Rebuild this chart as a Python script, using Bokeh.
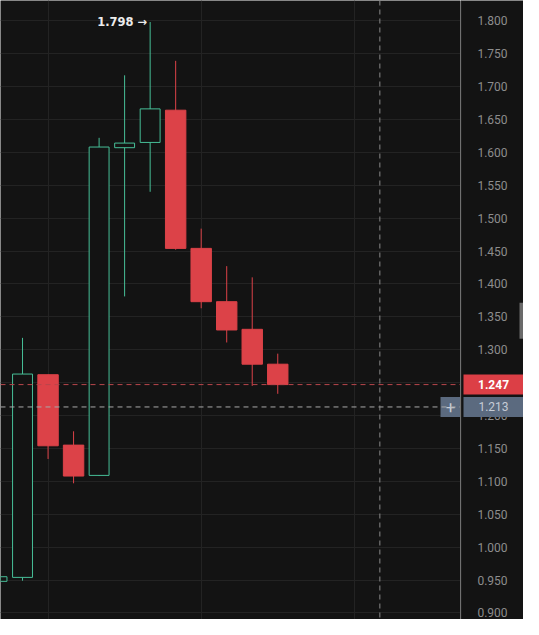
from bokeh.plotting import figure
from bokeh.layouts import row
from bokeh.models import ColumnDataSource, FixedTicker, Span, Range1d
from bokeh.core.properties import value
from bokeh.embed import file_html
from bokeh.resources import INLINE

# ---- data ----
idx = [0, 1, 2, 3, 4, 5, 6, 7, 8, 9, 10, 11]
opens = [0.948, 0.954, 1.262, 1.155, 1.109, 1.607, 1.615, 1.664, 1.454, 1.373, 1.331, 1.278]
closes = [0.955, 1.263, 1.154, 1.108, 1.608, 1.614, 1.666, 1.454, 1.373, 1.330, 1.278, 1.247]
highs = [0.957, 1.318, 1.262, 1.176, 1.622, 1.717, 1.798, 1.739, 1.484, 1.427, 1.410, 1.294]
lows = [0.945, 0.949, 1.134, 1.097, 1.108, 1.381, 1.540, 1.452, 1.363, 1.311, 1.245, 1.233]
y_ticks = [0.90, 0.95, 1.00, 1.05, 1.10, 1.15, 1.20, 1.25, 1.30, 1.35, 1.40,
           1.45, 1.50, 1.55, 1.60, 1.65, 1.70, 1.75, 1.80]
y_tick_labels = [f"{t:.3f}" for t in y_ticks]
x_grid_ticks = [2, 8, 14]
crosshair_x = 15
last_price = 1.247
cursor_price = 1.213
peak_label = ["1.798 \u2192"]
peak_x = [6]
peak_y = [1.798]

GREEN = "#47bf98"
RED = "#dc4248"
BG = "#131313"
GRID = "#232323"
AXIS_TXT = "#8d8d8d"
SLATE = "#5b6a7f"

up = [c >= o for o, c in zip(opens, closes)]


def subset(flag):
    return ColumnDataSource(dict(
        x=[i for i, u in zip(idx, up) if u == flag],
        top=[max(o, c) for o, c, u in zip(opens, closes, up) if u == flag],
        bottom=[min(o, c) for o, c, u in zip(opens, closes, up) if u == flag],
        high=[h for h, u in zip(highs, up) if u == flag],
        low=[l for l, u in zip(lows, up) if u == flag],
    ))


src_up = subset(True)
src_dn = subset(False)

H = 619
MAIN_W = 460
SCALE_W = 63
y_range = Range1d(0.890, 1.8307)
x_end = 18.16

p = figure(width=MAIN_W, height=H, output_backend="svg", toolbar_location=None,
           x_range=Range1d(0.137, x_end), y_range=y_range,
           min_border=0)
p.background_fill_color = BG
p.border_fill_color = BG
p.outline_line_color = None
p.xaxis.visible = False
p.yaxis.visible = False
p.xgrid.ticker = FixedTicker(ticks=x_grid_ticks)
p.ygrid.ticker = FixedTicker(ticks=y_ticks)
p.xgrid.grid_line_color = GRID
p.ygrid.grid_line_color = GRID

# wicks
p.segment(x0="x", y0="high", x1="x", y1="low", source=src_up, line_color=GREEN, line_width=1)
p.segment(x0="x", y0="high", x1="x", y1="low", source=src_dn, line_color=RED, line_width=1)
# bodies
p.vbar(x="x", top="top", bottom="bottom", width=0.78, source=src_up,
       fill_color=BG, line_color=GREEN, line_width=1)
p.vbar(x="x", top="top", bottom="bottom", width=0.8, source=src_dn,
       fill_color=RED, line_color=RED, line_width=1)

# horizontal price lines
p.add_layout(Span(location=last_price, dimension="width", line_color="#b8464b",
                  line_dash="5 4", line_width=1))
p.add_layout(Span(location=cursor_price, dimension="width", line_color="#a9a9a9",
                  line_dash="5 4", line_width=1))
# crosshair vertical
p.add_layout(Span(location=crosshair_x, dimension="height", line_color="#8a8a8a",
                  line_dash="5 4", line_width=1))

# peak annotation
p.text(x=peak_x, y=peak_y, text=peak_label, x_offset=-3, text_align="right",
       text_baseline="middle", text_color="#ececec", text_font=value("DejaVu Sans"),
       text_font_size="11.5px", text_font_style="bold")

# "+" button at the cursor price, at the right edge of the chart
p.rect(x=[x_end], y=[cursor_price], width=40, width_units="screen",
       height=20, height_units="screen", fill_color=SLATE, line_color=None)
p.text(x=[x_end], y=[cursor_price], text=["+"], x_offset=-10, text_align="center",
       text_baseline="middle", text_color="#c6ccd6", text_font=value("Roboto"),
       text_font_size="17px")

# ---- price scale ----
s = figure(width=SCALE_W, height=H, output_backend="svg", toolbar_location=None,
           x_range=Range1d(0, SCALE_W), y_range=y_range, min_border=0)
s.background_fill_color = BG
s.border_fill_color = BG
s.outline_line_color = None
s.xaxis.visible = False
s.yaxis.visible = False
s.grid.visible = False
s.add_layout(Span(location=0.5, dimension="height", line_color="#2a2a2a", line_width=1))

s.text(x=[32] * len(y_ticks), y=y_ticks, text=y_tick_labels, text_align="center",
       text_baseline="middle", text_color=AXIS_TXT, text_font=value("Roboto"),
       text_font_size="12px")

s.rect(x=[33], y=[last_price], width=60, height=20, height_units="screen",
       fill_color="#dc3f46", line_color=None)
s.text(x=[33], y=[last_price], text=[f"{last_price:.3f}"], text_align="center",
       text_baseline="middle", text_color="white", text_font=value("Roboto"),
       text_font_size="12px", text_font_style="bold")
s.rect(x=[33], y=[cursor_price], width=60, height=20, height_units="screen",
       fill_color=SLATE, line_color=None)
s.text(x=[33], y=[cursor_price], text=[f"{cursor_price:.3f}"], text_align="center",
       text_baseline="middle", text_color="#c6ccd6", text_font=value("Roboto"),
       text_font_size="12px")

# small collapse tab at the right edge
s.quad(left=[59], right=[63], top=[1.3714], bottom=[1.3167], fill_color="#6a6a6a",
       line_color=None)

layout = row(p, s, spacing=0)
open("out.html", "w").write(file_html(layout, INLINE))
